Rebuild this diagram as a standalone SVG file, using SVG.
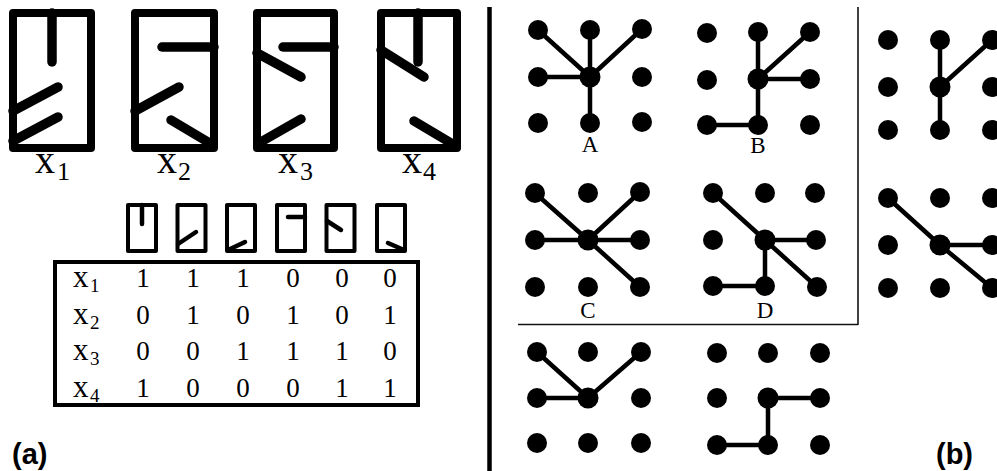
<svg xmlns="http://www.w3.org/2000/svg" width="997" height="471" viewBox="0 0 997 471">
<style>
.bigbox{fill:none;stroke:#000;stroke-width:8;stroke-linejoin:round}
.bigseg{fill:none;stroke:#000;stroke-width:9.5;stroke-linecap:round}
.icon{fill:none;stroke:#000;stroke-width:4;stroke-linejoin:round}
.iseg{fill:none;stroke:#000;stroke-width:4.5;stroke-linecap:round}
.serif{font-family:"Liberation Serif","DejaVu Serif",serif;fill:#000}
.lab{font-size:40px}
.sub{font-size:26px}
.tx{font-size:31px}
.tsub{font-size:19px}
.dig{font-size:27px;text-anchor:middle}
.let{font-size:23px;text-anchor:middle}
.panel{font-family:"Liberation Sans","Arial",sans-serif;font-weight:bold;font-size:29px;fill:#000}
.dot{fill:#000}
.edge{stroke:#000;stroke-width:4.5;stroke-linecap:round;fill:none}
.frame{stroke:#111;stroke-width:1.6;fill:none}
</style>
<rect width="997" height="471" fill="#fff"/>

<g id="x1-box">
<rect class="bigbox" x="13" y="13" width="78" height="135"/>
<line class="bigseg" x1="52" y1="13" x2="52" y2="62"/>
<line class="bigseg" x1="13" y1="111" x2="58" y2="87"/>
<line class="bigseg" x1="13" y1="141" x2="58" y2="117"/>
<text class="serif lab" x="35" y="173">x</text><text class="serif sub" x="57" y="180">1</text>
</g>
<g id="x2-box">
<rect class="bigbox" x="135" y="13" width="79" height="135"/>
<line class="bigseg" x1="162" y1="47" x2="214" y2="47"/>
<line class="bigseg" x1="135" y1="111" x2="179" y2="87"/>
<line class="bigseg" x1="171" y1="120" x2="213" y2="145"/>
<text class="serif lab" x="157" y="173">x</text><text class="serif sub" x="178" y="180">2</text>
</g>
<g id="x3-box">
<rect class="bigbox" x="257" y="13" width="77" height="135"/>
<line class="bigseg" x1="283" y1="47" x2="334" y2="47"/>
<line class="bigseg" x1="257" y1="53" x2="301" y2="77"/>
<line class="bigseg" x1="259" y1="143" x2="301" y2="119"/>
<text class="serif lab" x="278" y="173">x</text><text class="serif sub" x="300" y="180">3</text>
</g>
<g id="x4-box">
<rect class="bigbox" x="381" y="13" width="76" height="135"/>
<line class="bigseg" x1="418" y1="13" x2="418" y2="62"/>
<line class="bigseg" x1="381" y1="50" x2="424" y2="77"/>
<line class="bigseg" x1="414" y1="121" x2="456" y2="146"/>
<text class="serif lab" x="402" y="173">x</text><text class="serif sub" x="423" y="180">4</text>
</g>

<g id="feature-icons">
<rect class="icon" x="128" y="205" width="28" height="46"/>
<line class="iseg" x1="142" y1="205" x2="142" y2="224"/>
<rect class="icon" x="177.5" y="205" width="28" height="46"/>
<line class="iseg" x1="178" y1="244" x2="196" y2="232"/>
<rect class="icon" x="227" y="205" width="28" height="46"/>
<line class="iseg" x1="228" y1="250" x2="245" y2="242"/>
<rect class="icon" x="277" y="205" width="28" height="46"/>
<line class="iseg" x1="288" y1="217" x2="305" y2="217"/>
<rect class="icon" x="326.5" y="205" width="28" height="46"/>
<line class="iseg" x1="327" y1="221" x2="341" y2="230"/>
<rect class="icon" x="377" y="205" width="28" height="46"/>
<line class="iseg" x1="388" y1="243" x2="404" y2="250"/>
</g>

<g id="table">
<rect x="55" y="262" width="363" height="143" fill="none" stroke="#000" stroke-width="4"/>
<g class="serif">
<text class="tx" x="73" y="287">x</text><text class="tsub" x="90" y="292">1</text>
<text class="tx" x="73" y="323.5">x</text><text class="tsub" x="90" y="328.5">2</text>
<text class="tx" x="73" y="360">x</text><text class="tsub" x="90" y="365">3</text>
<text class="tx" x="73" y="397">x</text><text class="tsub" x="90" y="402">4</text>
</g>
<g class="serif dig">
<text x="143" y="287">1</text><text x="193" y="287">1</text><text x="243" y="287">1</text><text x="293" y="287">0</text><text x="342" y="287">0</text><text x="390" y="287">0</text>
<text x="143" y="323.5">0</text><text x="193" y="323.5">1</text><text x="243" y="323.5">0</text><text x="293" y="323.5">1</text><text x="342" y="323.5">0</text><text x="390" y="323.5">1</text>
<text x="143" y="360">0</text><text x="193" y="360">0</text><text x="243" y="360">1</text><text x="293" y="360">1</text><text x="342" y="360">1</text><text x="390" y="360">0</text>
<text x="143" y="397">1</text><text x="193" y="397">0</text><text x="243" y="397">0</text><text x="293" y="397">0</text><text x="342" y="397">1</text><text x="390" y="397">1</text>
</g>
</g>

<text class="panel" x="12" y="464">(a)</text>
<text class="panel" x="936" y="464">(b)</text>

<line x1="489.5" y1="7" x2="489.5" y2="471" stroke="#000" stroke-width="4.5"/>
<g id="frame">
<line class="frame" x1="858" y1="7" x2="858" y2="325"/>
<line class="frame" x1="518" y1="324.5" x2="858" y2="324.5"/>
</g>

<g id="connectors">
<line class="edge" x1="590" y1="77" x2="538" y2="30"/>
<line class="edge" x1="590" y1="77" x2="590" y2="30"/>
<line class="edge" x1="590" y1="77" x2="642" y2="29"/>
<line class="edge" x1="590" y1="77" x2="538" y2="77"/>
<line class="edge" x1="590" y1="77" x2="590" y2="123"/>
<line class="edge" x1="758" y1="79" x2="758" y2="32"/>
<line class="edge" x1="758" y1="79" x2="810" y2="32"/>
<line class="edge" x1="758" y1="79" x2="810" y2="79"/>
<line class="edge" x1="758" y1="79" x2="758" y2="125"/>
<line class="edge" x1="758" y1="125" x2="707" y2="125"/>
<line class="edge" x1="588" y1="240" x2="535" y2="193"/>
<line class="edge" x1="588" y1="240" x2="640" y2="192"/>
<line class="edge" x1="588" y1="240" x2="535" y2="240"/>
<line class="edge" x1="588" y1="240" x2="640" y2="240"/>
<line class="edge" x1="588" y1="240" x2="640" y2="287"/>
<line class="edge" x1="765" y1="240" x2="713" y2="193"/>
<line class="edge" x1="765" y1="240" x2="816" y2="240"/>
<line class="edge" x1="765" y1="240" x2="817" y2="287"/>
<line class="edge" x1="765" y1="240" x2="765" y2="286"/>
<line class="edge" x1="765" y1="286" x2="713" y2="286"/>
<line class="edge" x1="940" y1="87" x2="940" y2="40"/>
<line class="edge" x1="940" y1="87" x2="992" y2="40"/>
<line class="edge" x1="940" y1="87" x2="940" y2="130"/>
<line class="edge" x1="940" y1="245" x2="888" y2="198"/>
<line class="edge" x1="940" y1="245" x2="992" y2="245"/>
<line class="edge" x1="940" y1="245" x2="992" y2="288"/>
<line class="edge" x1="588" y1="398" x2="537" y2="352"/>
<line class="edge" x1="588" y1="398" x2="641" y2="352"/>
<line class="edge" x1="588" y1="398" x2="537" y2="398"/>
<line class="edge" x1="768" y1="398" x2="820" y2="398"/>
<line class="edge" x1="768" y1="398" x2="768" y2="445"/>
<line class="edge" x1="768" y1="445" x2="717" y2="445"/>
</g>

<g id="grid-A" class="dot">
<circle cx="538" cy="30" r="10"/><circle cx="590" cy="30" r="10"/><circle cx="642" cy="29" r="10"/>
<circle cx="538" cy="77" r="10"/><circle cx="590" cy="77" r="10.5"/><circle cx="642" cy="77" r="10"/>
<circle cx="538" cy="123" r="10"/><circle cx="590" cy="123" r="10"/><circle cx="642" cy="122" r="10"/>
<text class="serif let" x="590" y="152">A</text>
</g>
<g id="grid-B" class="dot">
<circle cx="707" cy="33" r="10"/><circle cx="758" cy="32" r="10"/><circle cx="810" cy="32" r="10"/>
<circle cx="707" cy="80" r="10"/><circle cx="758" cy="79" r="10.5"/><circle cx="810" cy="79" r="10"/>
<circle cx="707" cy="125" r="10"/><circle cx="758" cy="125" r="10"/><circle cx="810" cy="125" r="10"/>
<text class="serif let" x="758" y="153">B</text>
</g>
<g id="grid-C" class="dot">
<circle cx="535" cy="193" r="10"/><circle cx="588" cy="193" r="10"/><circle cx="640" cy="192" r="10"/>
<circle cx="535" cy="240" r="10"/><circle cx="588" cy="240" r="10.5"/><circle cx="640" cy="240" r="10"/>
<circle cx="535" cy="287" r="10"/><circle cx="588" cy="287" r="10"/><circle cx="640" cy="287" r="10"/>
<text class="serif let" x="588" y="318">C</text>
</g>
<g id="grid-D" class="dot">
<circle cx="713" cy="193" r="10"/><circle cx="765" cy="193" r="10"/><circle cx="815" cy="193" r="10"/>
<circle cx="713" cy="240" r="10"/><circle cx="765" cy="240" r="10.5"/><circle cx="816" cy="240" r="10"/>
<circle cx="713" cy="286" r="10"/><circle cx="765" cy="286" r="10"/><circle cx="817" cy="287" r="10"/>
<text class="serif let" x="765" y="318">D</text>
</g>
<g id="grid-right-top" class="dot">
<circle cx="888" cy="40" r="10"/><circle cx="940" cy="40" r="10"/><circle cx="992" cy="40" r="10"/>
<circle cx="888" cy="87" r="10"/><circle cx="940" cy="87" r="10.5"/><circle cx="992" cy="87" r="10"/>
<circle cx="888" cy="130" r="10"/><circle cx="940" cy="130" r="10"/><circle cx="992" cy="130" r="10"/>
</g>
<g id="grid-right-bottom" class="dot">
<circle cx="888" cy="198" r="10"/><circle cx="940" cy="198" r="10"/><circle cx="992" cy="198" r="10"/>
<circle cx="888" cy="245" r="10"/><circle cx="940" cy="245" r="10.5"/><circle cx="992" cy="245" r="10"/>
<circle cx="888" cy="288" r="10"/><circle cx="940" cy="288" r="10"/><circle cx="992" cy="288" r="10"/>
</g>
<g id="grid-bottom-left" class="dot">
<circle cx="537" cy="352" r="10"/><circle cx="588" cy="352" r="10"/><circle cx="641" cy="352" r="10"/>
<circle cx="537" cy="398" r="10"/><circle cx="588" cy="398" r="10.5"/><circle cx="641" cy="398" r="10"/>
<circle cx="537" cy="443" r="10"/><circle cx="588" cy="443" r="10"/><circle cx="641" cy="443" r="10"/>
</g>
<g id="grid-bottom-middle" class="dot">
<circle cx="717" cy="353" r="10"/><circle cx="768" cy="353" r="10"/><circle cx="820" cy="353" r="10"/>
<circle cx="717" cy="398" r="10"/><circle cx="768" cy="398" r="10.5"/><circle cx="820" cy="398" r="10"/>
<circle cx="717" cy="445" r="10"/><circle cx="768" cy="445" r="10"/><circle cx="820" cy="445" r="10"/>
</g>
</svg>
